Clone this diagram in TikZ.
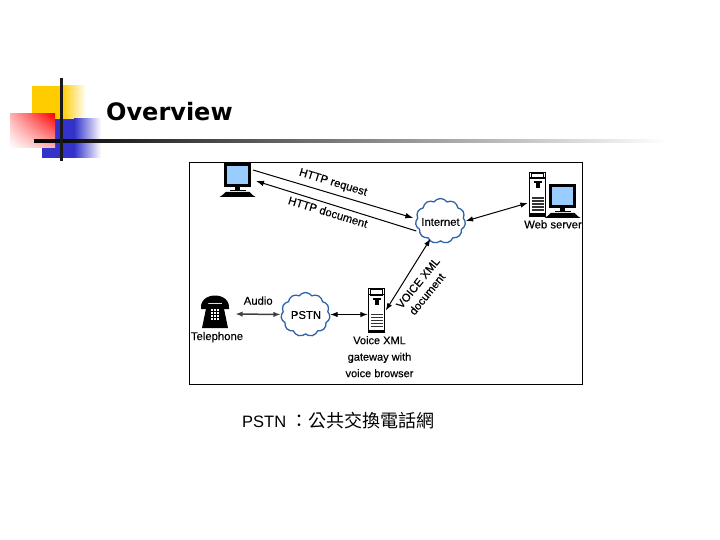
\documentclass[tikz,border=0pt]{standalone}
\usepackage{fontspec}
\setmainfont{Liberation Sans}
\newfontfamily\titlefont{DejaVu Sans}
\newfontfamily\labfont[FakeBold=0.35]{Liberation Sans}
\newfontfamily\cjk{Noto Sans CJK TC}
\usetikzlibrary{arrows.meta,positioning,calc,shapes.symbols,shadings}

\definecolor{screenblue}{HTML}{99CCFF}
\definecolor{cloudblue}{HTML}{2F62A8}
\definecolor{slideyellow}{HTML}{FFCC00}
\definecolor{slideblue}{HTML}{3333CC}

\begin{document}
\begin{tikzpicture}[
  x=1pt, y=-1pt,
  font=\labfont\fontsize{11.3}{13}\selectfont,
  net/.style={cloud, cloud puffs=11, cloud puff arc=110, aspect=1.15, draw=cloudblue,
              line width=1.3pt, fill=white, inner sep=0pt, align=center},
  lab/.style={inner sep=0pt, align=center},
  ar/.style={{Latex[length=2.6mm,width=1.9mm]}-{Latex[length=2.6mm,width=1.9mm]}, line width=1pt},
  arone/.style={-{Latex[length=2.8mm,width=2mm]}, line width=1pt},
  monitoricon/.pic={
    \node[draw=black, line width=3pt, fill=screenblue, minimum width=24pt,
          minimum height=21pt, inner sep=0pt] (-box) at (0,0) {};
    \fill (-2.5,12) rectangle (2.5,15);
    \fill (-8,15) rectangle (8,16.5);
    \fill (-15,20) -- (-12,17) -- (12,17) -- (15,20) -- (18,22) -- (-18,22) -- cycle;
  },
  towericon/.pic={
    \node[draw=black, line width=1pt, fill=white, minimum width=16.5pt,
          minimum height=44pt, inner sep=0pt] (-box) at (0,0) {};
    \draw[line width=1pt, fill=white] (-6,-21) rectangle (6,-15.5);
    \fill (-8,-17) rectangle (8,-15.5);
    \fill (-4,-13) rectangle (4,-11);
    \fill (-2,-11) rectangle (2,-6);
    \foreach \ybar in {3,6,9,12,15}
      \fill[black!80] (-6,\ybar) rectangle (6,\ybar+1.6);
    \fill (-8,19) rectangle (8,22);
  },
  phoneicon/.pic={
    \node[minimum width=28pt, minimum height=32pt, inner sep=0pt] (-box) at (0,0) {};
    \fill (-14,-3) .. controls (-16,-21) and (16,-21) .. (14,-3)
      -- (7,-3) -- (7,-9) -- (-7,-9) -- (-7,-3) -- cycle;
    \fill (-8,-8) -- (8,-8) -- (13,16) -- (-13,16) -- cycle;
    \foreach \xkey in {-3.2,0,3.2}
      \foreach \ykey in {-2,1,4,7}
        \fill[white] (\xkey-1,\ykey-0.9) rectangle (\xkey+1,\ykey+0.9);
  }
]
\useasboundingbox (0,0) rectangle (720,540);

% slide decoration
\fill[slideyellow] (32,86) rectangle (62,119);
\shade[left color=slideyellow, right color=white] (62,86) rectangle (86,119);
\fill[slideblue] (42,119) rectangle (74,158);
\shade[left color=slideblue, right color=white] (74,119) rectangle (101,158);
\shade[upper right=red, upper left=red!30, lower right=red!30, lower left=white]
  (10,114) rectangle (55,148);
\shade[left color=black, middle color=black!40, right color=white] (34,139.5) rectangle (668,142.5);
\fill[black!90] (59.5,78) rectangle (62.5,161);

\node[anchor=west, inner sep=0pt, font=\titlefont\bfseries\fontsize{24}{28}\selectfont]
  (title) at (106,112) {Overview};

% picture frame
\node[draw=black, line width=0.8pt, minimum width=393pt, minimum height=222pt,
      inner sep=0pt] (frame) at (385.5,273) {};

\pic (pc) at (237.5,175) {monitoricon};
\pic (srv) at (562.5,196) {monitoricon};
\pic (web) at (537.5,194.5) {towericon};
\pic (gate) at (376.5,310.5) {towericon};
\pic (tel) at (215,312) {phoneicon};

\node[net, minimum width=50pt, minimum height=45pt] (inet) at (440.5,221) {};
\node[net, minimum width=49pt, minimum height=44pt] (pstn) at (305.5,314.5) {};
\node[lab] (inettxt) at (440.5,222) {Internet};
\node[lab] (pstntxt) at (306,315) {PSTN};

\node[lab, below=3pt of web-box.south, xshift=15.5pt] (webtxt) {Web server};
\node[lab, below=3.5pt of tel-box.south, xshift=2pt] (teltxt) {Telephone};
\node[lab, above=7pt of tel-box.east, xshift=29pt] (audiotxt) {Audio};
\node[lab, font=\labfont\fontsize{11}{16.5}\selectfont, below=3pt of gate-box.south, xshift=3pt]
  (gatetxt) {Voice XML\\gateway with\\voice browser};

\node[lab, rotate=-17] (reqtxt) at (333,183) {HTTP request};
\node[lab, rotate=-17] (doctxt) at (328,212) {HTTP document};
\node[lab, rotate=51] (vxmltxt) at (418,283) {VOICE XML};
\node[lab, rotate=51] (vdoctxt) at (427,294) {document};

\draw[arone] ([shift={(2,-5)}]pc-box.east) -- ([shift={(-2,-3)}]inet.west);
\draw[arone] ([shift={(1,10)}]inet.west) -- ([shift={(5,6)}]pc-box.east);
\draw[ar] (inet.east) -- ([shift={(-1,8.5)}]web-box.west);
\draw[ar] ([xshift=0.5pt]gate-box.east) -- ([xshift=-10pt,yshift=3pt]inet.south);
\draw[ar, line width=1.5pt, black!75] ([shift={(6,2)}]tel-box.east) -- (pstn.west);
\draw[ar] (pstn.east) -- (gate-box.west |- pstn.east);

\node[anchor=west, inner sep=0pt, font=\fontsize{16.5}{20}\selectfont] (note) at (242,421)
  {\normalfont\fontsize{16.5}{20}\selectfont PSTN {\cjk\fontsize{18}{20}\selectfont ：公共交換電話網}};
\end{tikzpicture}
\end{document}
